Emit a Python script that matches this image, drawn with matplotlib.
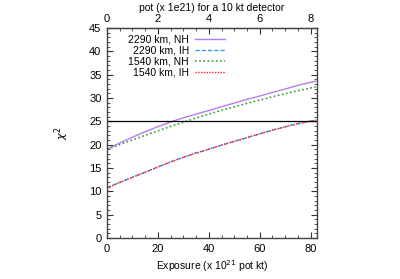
import matplotlib

matplotlib.use("Agg")
import matplotlib.pyplot as plt
from matplotlib.ticker import MultipleLocator

plt.rcParams["font.family"] = ["Liberation Sans", "DejaVu Sans"]
plt.rcParams["font.size"] = 7.5

# exposure (x 1e21 pot kt) and chi^2
exposure = [0, 5, 10, 15, 20, 25, 30, 35, 40, 45, 50, 55, 60, 65, 70, 75, 82]
chi2_2290_nh = [19.0, 20.35, 21.6, 22.75, 23.85, 24.85, 25.75, 26.55, 27.3, 28.1,
                28.9, 29.7, 30.4, 31.2, 31.9, 32.7, 33.6]
chi2_2290_ih = [10.8, 11.9, 13.0, 14.1, 15.2, 16.3, 17.3, 18.2, 19.0, 19.9,
                20.7, 21.5, 22.3, 23.1, 23.8, 24.5, 25.2]
chi2_1540_nh = [19.0, 20.0, 21.0, 22.0, 22.95, 23.9, 24.8, 25.7, 26.55, 27.35,
                28.1, 28.85, 29.55, 30.25, 30.9, 31.55, 32.35]
chi2_1540_ih = [10.7, 11.9, 13.0, 14.1, 15.2, 16.3, 17.3, 18.2, 19.0, 19.9,
                20.7, 21.5, 22.3, 23.1, 23.8, 24.5, 25.25]
threshold = 25

fig = plt.figure(figsize=(4.0, 2.79), dpi=100)
ax = fig.add_axes([0.2675, 0.147, 0.525, 0.753])

ax.plot(exposure, chi2_2290_nh, color="#b77cf0", lw=1.0, label="2290 km, NH")
ax.plot(exposure, chi2_2290_ih, color="#3399ff", lw=1.0, ls=(0, (3, 1.5)), label="2290 km, IH")
ax.plot(exposure, chi2_1540_nh, color="#3a9a3a", lw=1.2, ls=(0, (1, 1.5)), label="1540 km, NH")
ax.plot(exposure, chi2_1540_ih, color="#ff2020", lw=1.0, ls=(0, (1, 1)), label="1540 km, IH")
ax.axhline(threshold, color="black", lw=0.9)

ax.set_xlim(0, 82.5)
ax.set_ylim(0, 45)
ax.xaxis.set_major_locator(MultipleLocator(20))
ax.xaxis.set_minor_locator(MultipleLocator(5))
ax.yaxis.set_major_locator(MultipleLocator(5))
ax.yaxis.set_minor_locator(MultipleLocator(1))
ax.tick_params(which="both", direction="in", right=True, top=False, labelsize=8,
               color="#333333", pad=4)
ax.tick_params(which="major", length=4)
ax.tick_params(which="minor", length=2)
for sp in ax.spines.values():
    sp.set_color("#444444")
    sp.set_linewidth(1.0)

top = ax.secondary_xaxis("top", functions=(lambda x: x / 10, lambda x: x * 10))
top.xaxis.set_major_locator(MultipleLocator(2))
top.xaxis.set_minor_locator(MultipleLocator(0.5))
top.tick_params(which="both", direction="in", labelsize=8, color="#333333", pad=3)
top.tick_params(which="major", length=4)
top.tick_params(which="minor", length=2)
top.set_xlabel("pot (x 1e21) for a 10 kt detector", fontsize=7.5, labelpad=2)

ax.set_xlabel("Exposure (x 10$^{21}$ pot kt)", fontsize=7.5, labelpad=3)
ax.set_ylabel(r"$\chi^2$", fontsize=8, labelpad=13)

leg = ax.legend(loc="upper left", frameon=False, markerfirst=False, fontsize=7.5,
                handlelength=2.9, handletextpad=0.55, labelspacing=0.12,
                borderaxespad=0.2, bbox_to_anchor=(0.07, 1.0))

fig.savefig("out.png", dpi=100)
